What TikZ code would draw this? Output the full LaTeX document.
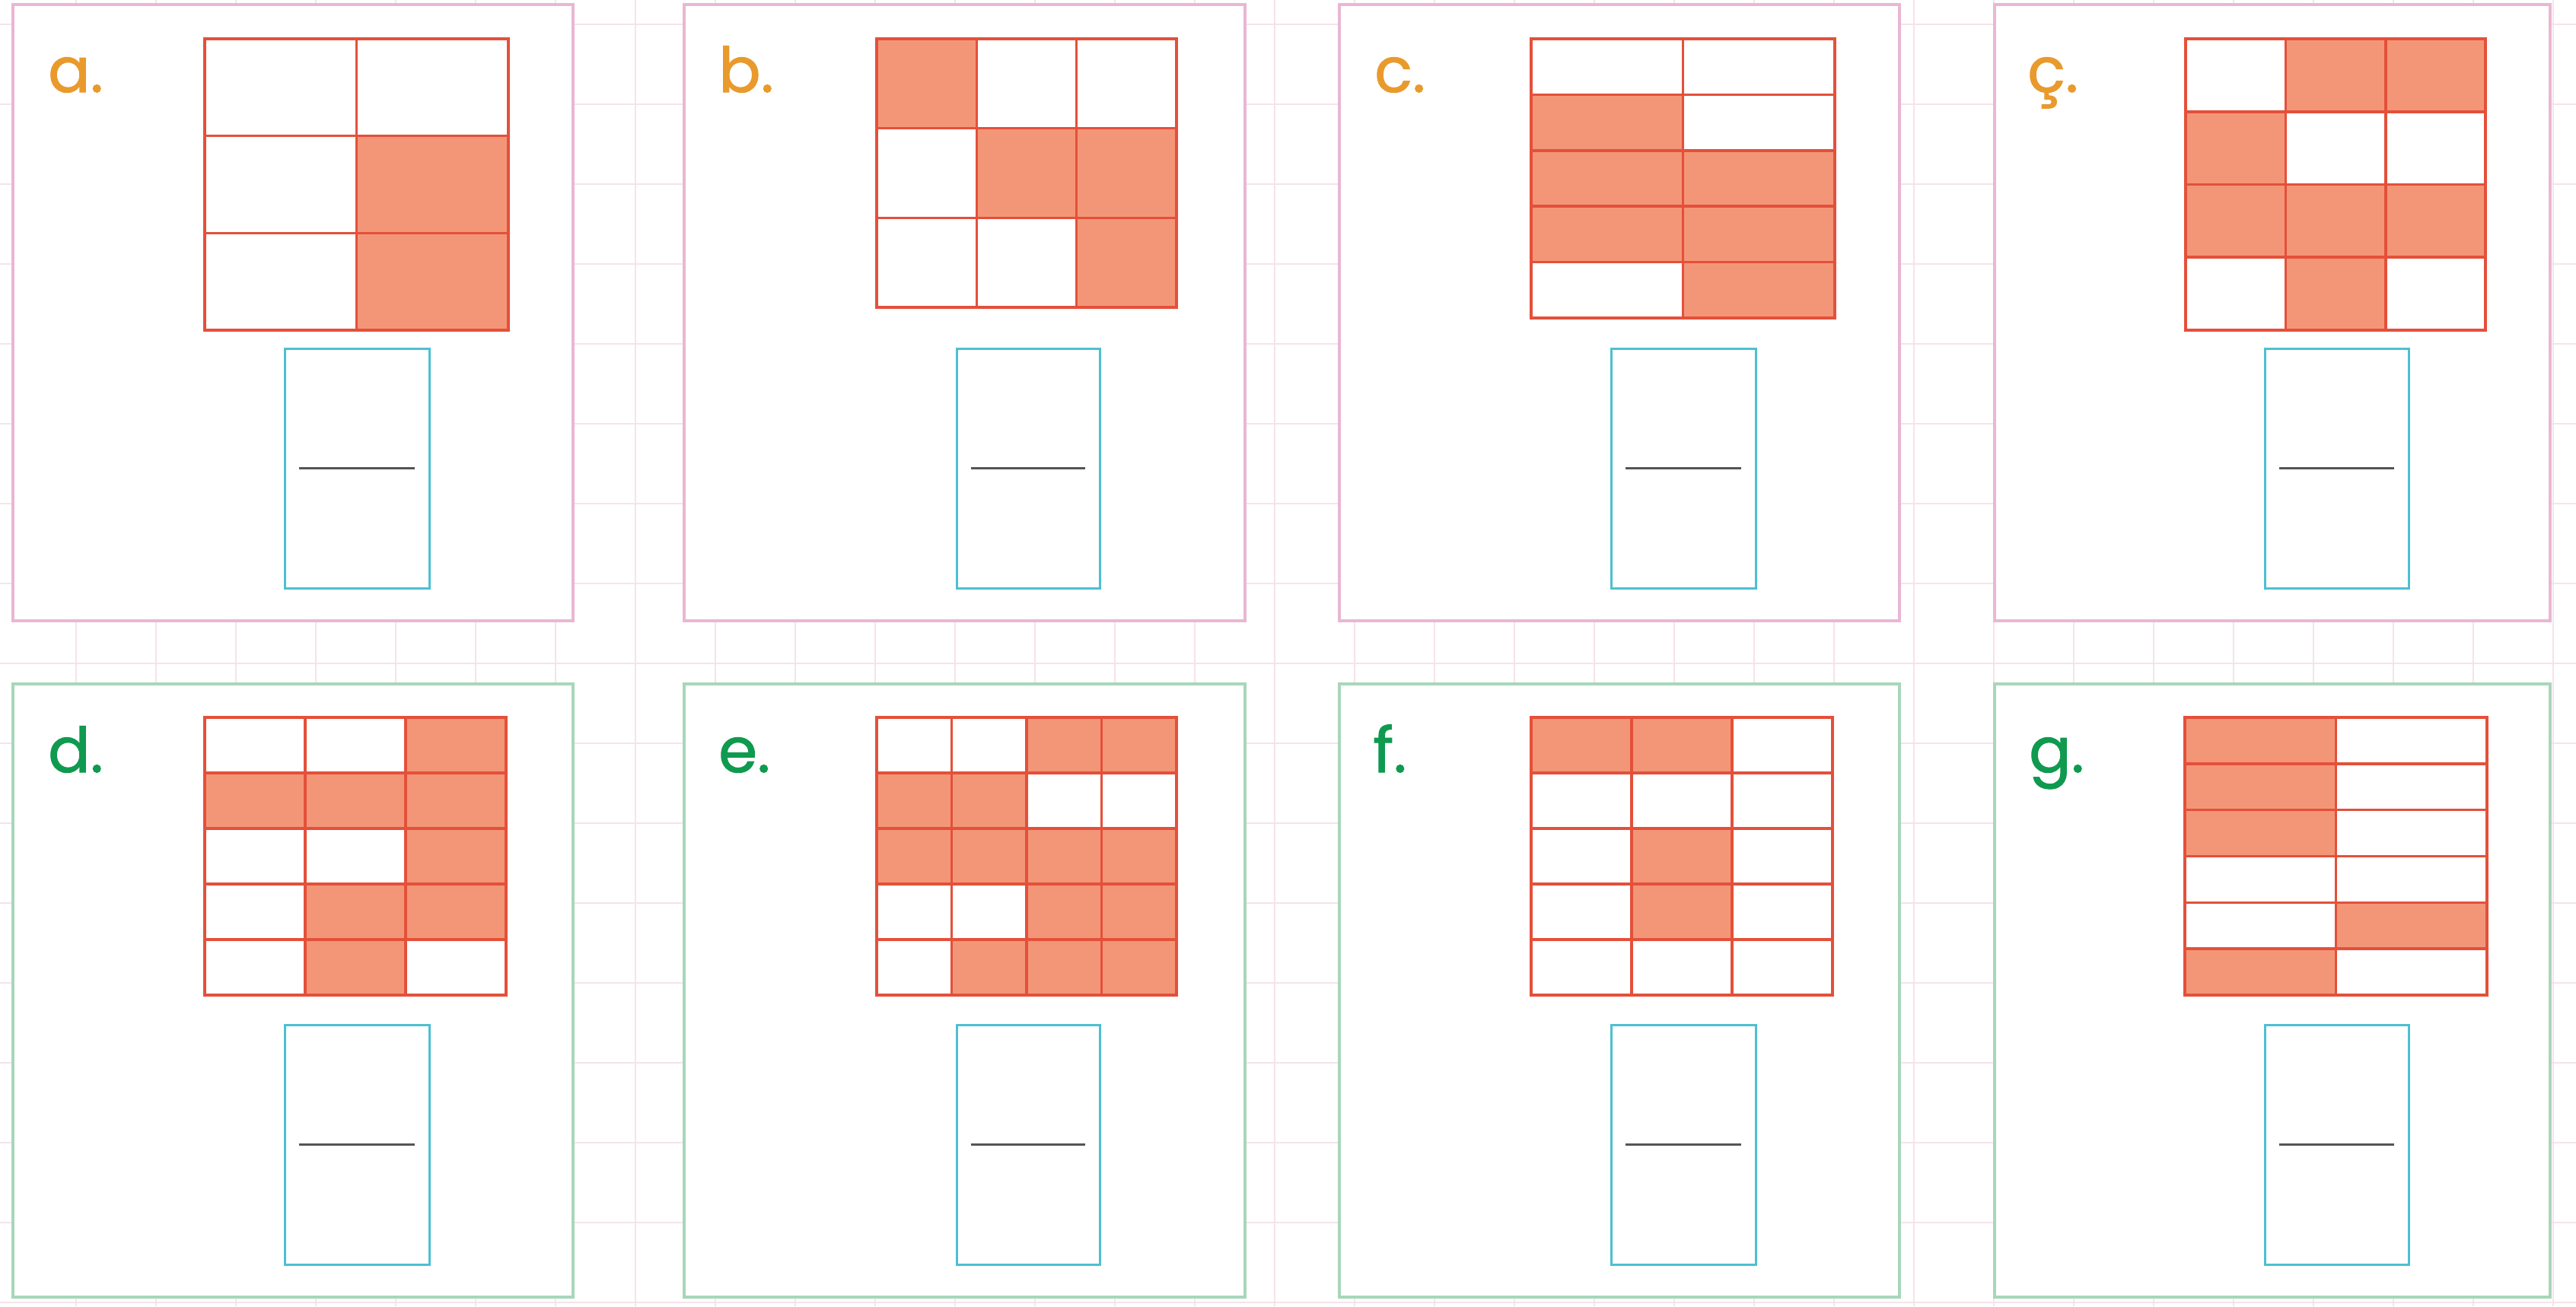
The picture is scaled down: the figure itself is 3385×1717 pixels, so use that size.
\documentclass[tikz,border=0pt]{standalone}
\usepackage{fontspec}
\setmainfont{Poppins}[FakeBold=1.2]
\definecolor{bggrid}{HTML}{F6E3EA}
\definecolor{panelpink}{HTML}{E9B7D3}
\definecolor{panelgreen}{HTML}{A8D6BA}
\definecolor{cellfill}{HTML}{F39678}
\definecolor{cellline}{HTML}{E4503A}
\definecolor{bluebox}{HTML}{4CC0D2}
\definecolor{fracgray}{HTML}{555555}
\definecolor{lblorange}{HTML}{E99A2C}
\definecolor{lblgreen}{HTML}{0F9A4F}
\newcommand\fgridbox[7]{%
  \pgfmathsetmacro\gcw{(#3-#1)/#5}%
  \pgfmathsetmacro\grh{(#4-#2)/#6}%
  \foreach \c/\r in {#7}{\fill[cellfill] ({#1+(\c-1)*\gcw},{#2+(\r-1)*\grh}) rectangle ++(\gcw,\grh);}%
  \pgfmathtruncatemacro\gnc{#5-1}%
  \pgfmathtruncatemacro\gnr{#6-1}%
  \foreach \i in {1,...,\gnc}{\draw[cellstroke] ({#1+\i*\gcw},#2) -- ({#1+\i*\gcw},#4);}%
  \foreach \j in {1,...,\gnr}{\draw[cellstroke] (#1,{#2+\j*\grh}) -- (#3,{#2+\j*\grh});}%
  \draw[cellstroke] (#1,#2) rectangle (#3,#4);%
}
\newcommand\ansbox[3]{% x0, x1, y0 (height 315)
  \draw[answerbox] (#1,#3) rectangle (#2,{#3+315});
  \draw[fracstroke] ({#1+19},{#3+157.5}) -- ({#2-19},{#3+157.5});
}
\begin{document}
\begin{tikzpicture}[x=1pt,y=-1pt,
  bgline/.style={draw=bggrid,line width=1.5pt},
  pinkpanel/.style={draw=panelpink,line width=3.5pt,fill=white},
  greenpanel/.style={draw=panelgreen,line width=3.5pt,fill=white},
  cellstroke/.style={draw=cellline,line width=3.6pt,line cap=rect},
  answerbox/.style={draw=bluebox,line width=3pt},
  fracstroke/.style={draw=fracgray,line width=2.5pt},
  lbl/.style={font=\fontsize{82}{98}\selectfont,anchor=base west,inner sep=0pt}]
\useasboundingbox (0,0) rectangle (3385,1717);
\fill[white] (0,0) rectangle (3385,1717);
% background squared paper
\foreach \k in {0,...,31}{\draw[bgline] ({100+105*\k},0) -- ({100+105*\k},1717);}
\foreach \k in {0,...,16}{\draw[bgline] (0,{32+105*\k}) -- (3385,{32+105*\k});}
% panels
\draw[pinkpanel] (17,6) rectangle (753,816);
\draw[pinkpanel] (899,6) rectangle (1636,816);
\draw[pinkpanel] (1760,6) rectangle (2496,816);
\draw[pinkpanel] (2621,6) rectangle (3351,816);
\draw[greenpanel] (17,899) rectangle (753,1705);
\draw[greenpanel] (899,899) rectangle (1636,1705);
\draw[greenpanel] (1760,899) rectangle (2496,1705);
\draw[greenpanel] (2621,899) rectangle (3351,1705);
% labels
\node[lbl,text=lblorange] (la) at (63,121) {a.};
\node[lbl,text=lblorange] (lb) at (944,121) {b.};
\node[lbl,text=lblorange] (lc) at (1806,121) {c.};
\node[lbl,text=lblorange] (lcc) at (2664,121) {ç.};
\node[lbl,text=lblgreen] (ld) at (63,1015) {d.};
\node[lbl,text=lblgreen] (le) at (944,1015) {e.};
\node[lbl,text=lblgreen] (lf) at (1804,1015) {f.};
\node[lbl,text=lblgreen] (lg) at (2666,1015) {g.};
% fraction grids
\fgridbox{269}{51}{668}{434}{2}{3}{2/2,2/3}
\fgridbox{1152}{51}{1546}{404}{3}{3}{1/1,2/2,3/2,3/3}
\fgridbox{2012}{51}{2411}{418}{2}{5}{1/2,1/3,2/3,1/4,2/4,2/5}
\fgridbox{2872}{51}{3266}{434}{3}{4}{2/1,3/1,1/2,1/3,2/3,3/3,2/4}
\fgridbox{269}{943}{665}{1308}{3}{5}{3/1,1/2,2/2,3/2,3/3,2/4,3/4,2/5}
\fgridbox{1152}{943}{1546}{1308}{4}{5}{3/1,4/1,1/2,2/2,1/3,2/3,3/3,4/3,3/4,4/4,2/5,3/5,4/5}
\fgridbox{2012}{943}{2408}{1308}{3}{5}{1/1,2/1,2/3,2/4}
\fgridbox{2871}{943}{3268}{1308}{2}{6}{1/1,1/2,1/3,2/5,1/6}
% answer boxes
\ansbox{374}{564}{458}
\ansbox{1257}{1445}{458}
\ansbox{2117}{2307}{458}
\ansbox{2976}{3165}{458}
\ansbox{374}{564}{1347}
\ansbox{1257}{1445}{1347}
\ansbox{2117}{2307}{1347}
\ansbox{2976}{3165}{1347}
\end{tikzpicture}
\end{document}
